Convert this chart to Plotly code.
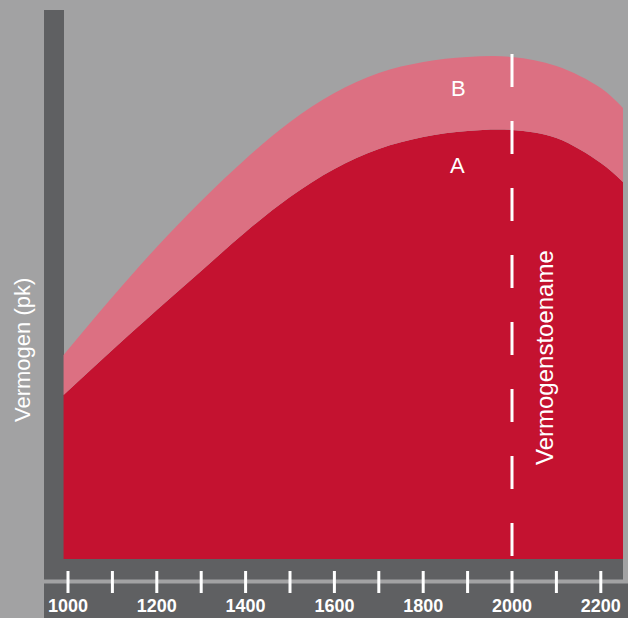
import plotly.graph_objects as go

# Data
rpm = [990, 1100, 1200, 1300, 1400, 1500, 1600, 1700, 1800, 1900, 2000, 2100, 2200, 2250]
power_a = [82, 104.5, 124.5, 144, 163.5, 181, 195, 205, 211, 214, 214.5, 210.5, 198, 188.5]
power_b = [102, 131, 156, 179, 200, 218.5, 233, 243, 248.5, 251, 251, 246.5, 235.5, 225.5]
tick_rpm = [1000, 1100, 1200, 1300, 1400, 1500, 1600, 1700, 1800, 1900, 2000, 2100, 2200]
label_rpm = [1000, 1200, 1400, 1600, 1800, 2000, 2200]
label_text = ["1000", "1200", "1400", "1600", "1800", "2000", "2200"]
marker_rpm = 2000

BG = "#a2a2a3"
DARK = "#5f6062"
RED = "#c41230"
PINK = "#dc7082"

fig = go.Figure()
fig.add_trace(go.Scatter(x=rpm, y=power_a, mode="lines", line=dict(width=0, shape="spline", smoothing=1.0),
                         fill="tozeroy", fillcolor=RED, hoverinfo="skip", showlegend=False))
fig.add_trace(go.Scatter(x=rpm, y=power_b, mode="lines", line=dict(width=0, shape="spline", smoothing=1.0),
                         fill="tonexty", fillcolor=PINK, hoverinfo="skip", showlegend=False))

W, H = 628, 618
ml, mr, mt, mb = 44, 5, 10, 59
pw = W - ml - mr
ph = H - mt - mb

def px_x(p):
    return (p - ml) / pw

def px_y(p):
    return (H - mb - p) / ph

shapes = []
# left dark bar
shapes.append(dict(type="rect", xref="paper", yref="paper", x0=0, x1=px_x(64), y0=px_y(620), y1=1,
                   fillcolor=DARK, line=dict(width=0), layer="below"))
# bottom dark band
shapes.append(dict(type="rect", xref="paper", yref="paper", x0=0, x1=1, y0=px_y(582), y1=0,
                   fillcolor=DARK, line=dict(width=0), layer="below"))
shapes.append(dict(type="rect", xref="paper", yref="paper", x0=0, x1=px_x(630), y0=px_y(620), y1=px_y(582),
                   fillcolor=DARK, line=dict(width=0), layer="below"))
# light separating line
shapes.append(dict(type="line", xref="paper", yref="paper", x0=0, x1=px_x(630), y0=px_y(581.5), y1=px_y(581.5),
                   line=dict(color=BG, width=4), layer="above"))
# ticks
for t in tick_rpm:
    shapes.append(dict(type="line", xref="x", yref="paper", x0=t, x1=t, y0=px_y(571), y1=px_y(593),
                       line=dict(color="white", width=3), layer="above"))
# dashed marker line
top_val = power_b[rpm.index(marker_rpm)] + 1.5
shapes.append(dict(type="line", xref="x", yref="y", x0=marker_rpm, x1=marker_rpm, y0=top_val, y1=0,
                   line=dict(color="white", width=3, dash="33px,34px"), layer="above"))

x_left = 1000 + (ml - 68) / 0.444
x_right = 1000 + (W - mr - 68) / 0.444

fig.update_layout(
    width=W, height=H,
    margin=dict(l=ml, r=mr, t=mt, b=mb, autoexpand=False),
    paper_bgcolor=BG, plot_bgcolor=BG,
    shapes=shapes,
    xaxis=dict(range=[x_left, x_right], showgrid=False, zeroline=False, showline=False, automargin=False,
               tickvals=label_rpm, ticktext=label_text, ticks="", ticklabelstandoff=34,
               tickfont=dict(family="Liberation Sans", size=18, color="white", weight="bold")),
    yaxis=dict(range=[0, (H - mb - mt) / 2], showgrid=False, zeroline=False, showline=False, automargin=False,
               showticklabels=False, ticks=""),
    annotations=[
        dict(text="Vermogen (pk)", xref="paper", yref="paper", x=px_x(23), y=px_y(350),
             textangle=-90, showarrow=False, xanchor="center", yanchor="middle",
             font=dict(family="Liberation Sans", size=22, color="white")),
        dict(text="Vermogenstoename", xref="x", yref="y", x=marker_rpm, xshift=32, y=(H - mb - 358) / 2,
             textangle=-90, showarrow=False, xanchor="center", yanchor="middle",
             font=dict(family="Liberation Sans", size=24, color="white")),
        dict(text="B", xref="x", yref="y", x=1880, y=235.5, showarrow=False,
             font=dict(family="Liberation Sans", size=22, color="white")),
        dict(text="A", xref="x", yref="y", x=1878, y=197, showarrow=False,
             font=dict(family="Liberation Sans", size=22, color="white")),
    ],
)

fig.write_html("out.html", config={"displayModeBar": False},
               post_script="document.body.style.margin='0';document.body.style.overflow='hidden';")
